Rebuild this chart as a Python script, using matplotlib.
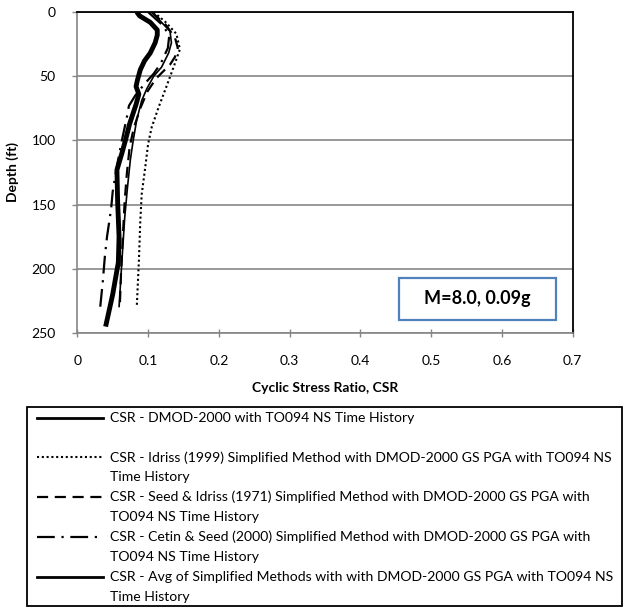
import matplotlib
matplotlib.use("Agg")
import matplotlib.pyplot as plt
from matplotlib.patches import Rectangle
from matplotlib.lines import Line2D

plt.rcParams['font.family'] = ['Lato', 'DejaVu Sans']

# ---- data ----
dmod_depth = [0, 8, 15, 24, 32, 43, 50, 60, 69, 84, 100, 115, 136, 160, 194, 230]
dmod_csr = [0.105, 0.119, 0.131, 0.133, 0.129, 0.119, 0.108, 0.098, 0.091, 0.084, 0.079, 0.075, 0.071, 0.067, 0.063, 0.059]

idriss_depth = [0, 8, 17, 29, 43, 58, 74, 90, 103, 121, 142, 163, 194, 230]
idriss_csr = [0.108, 0.125, 0.140, 0.145, 0.136, 0.126, 0.115, 0.105, 0.100, 0.096, 0.091, 0.089, 0.087, 0.084]

seed_depth = [0, 10, 20, 28, 35, 41, 47, 52, 62, 75, 90, 105, 126, 147, 168, 200, 230]
seed_csr = [0.105, 0.125, 0.138, 0.142, 0.138, 0.131, 0.120, 0.111, 0.099, 0.089, 0.080, 0.074, 0.070, 0.067, 0.065, 0.062, 0.060]

cetin_depth = [0, 10, 18, 28, 40, 48, 56, 65, 73, 82, 100, 120, 140, 152, 160, 175, 190, 210, 232]
cetin_csr = [0.100, 0.120, 0.130, 0.128, 0.118, 0.108, 0.095, 0.082, 0.073, 0.070, 0.063, 0.056, 0.050, 0.048, 0.046, 0.042, 0.039, 0.036, 0.032]

avg_depth = [0, 3, 8, 14, 18, 24, 32, 38, 45, 53, 58, 64, 72, 87, 100, 110, 123, 148, 175, 195, 220, 245]
avg_csr = [0.084, 0.088, 0.103, 0.113, 0.113, 0.110, 0.103, 0.095, 0.089, 0.085, 0.083, 0.087, 0.083, 0.074, 0.068, 0.063, 0.056, 0.057, 0.059, 0.058, 0.050, 0.040]

x_ticks = [0, 0.1, 0.2, 0.3, 0.4, 0.5, 0.6, 0.7]
x_tick_labels = ["0", "0.1", "0.2", "0.3", "0.4", "0.5", "0.6", "0.7"]
y_ticks = [0, 50, 100, 150, 200, 250]
y_tick_labels = ["0", "50", "100", "150", "200", "250"]

legend_labels = [
    ["CSR - DMOD-2000 with TO094 NS Time History", ""],
    ["CSR - Idriss (1999) Simplified Method with DMOD-2000 GS PGA with TO094 NS", "Time History"],
    ["CSR - Seed & Idriss (1971) Simplified Method with DMOD-2000 GS PGA with", "TO094 NS Time History"],
    ["CSR - Cetin & Seed (2000) Simplified Method with DMOD-2000 GS PGA with", "TO094 NS Time History"],
    ["CSR - Avg of Simplified Methods with with DMOD-2000 GS PGA with TO094 NS", "Time History"],
]
annotation = "M=8.0, 0.09g"

W, H = 624, 613
fig = plt.figure(figsize=(W / 100, H / 100), dpi=100)

def fx(px):
    return px / W

def fy(py):
    return 1 - py / H

ax = fig.add_axes([fx(77.3), fy(333), fx(572.7) - fx(77.3), fy(12) - fy(333)])

styles = [
    dict(color='black', lw=1.2, ls='-'),
    dict(color='black', lw=1.5, ls=(0, (1, 1.3))),
    dict(color='black', lw=1.6, ls=(0, (5, 3))),
    dict(color='black', lw=1.6, ls=(0, (8, 3, 1, 3))),
    dict(color='black', lw=3.5, ls='-'),
]
series = [(dmod_csr, dmod_depth), (idriss_csr, idriss_depth), (seed_csr, seed_depth),
          (cetin_csr, cetin_depth), (avg_csr, avg_depth)]
for (xs, ys), st in zip(series, styles):
    ax.plot(xs, ys, solid_capstyle='butt', dash_capstyle='butt', **st)

ax.set_xlim(0, 0.7)
ax.set_ylim(250, 0)
ax.set_xticks(x_ticks)
ax.set_xticklabels(x_tick_labels)
ax.set_yticks(y_ticks)
ax.set_yticklabels(y_tick_labels)
gray = '#868686'
ax.grid(axis='y', color=gray, lw=1.2)
ax.set_axisbelow(True)
ax.tick_params(axis='x', direction='inout', length=6, width=1, color=gray, pad=13, labelsize=10)
ax.tick_params(axis='y', direction='out', length=3.5, width=1, color=gray, pad=12, labelsize=10)
for s in ['left', 'bottom']:
    ax.spines[s].set_color(gray)
    ax.spines[s].set_linewidth(1.2)
for s in ['top', 'right']:
    ax.spines[s].set_color('black')
    ax.spines[s].set_linewidth(1.3)

ax.set_xlabel("Cyclic Stress Ratio, CSR", fontsize=10, fontweight='bold', labelpad=11)
ax.set_ylabel("Depth (ft)", fontsize=10, fontweight='bold', labelpad=9)

# annotation box
ax.add_patch(Rectangle((fx(399), fy(320)), fx(556) - fx(399), fy(278) - fy(320),
                       transform=fig.transFigure, fill=False, edgecolor='#4f81bd', lw=1.6))
fig.text(fx(477.5), fy(299), annotation, ha='center', va='center', fontsize=13, fontweight='bold')

# legend
fig.add_artist(Rectangle((fx(27), fy(606)), fx(622) - fx(27), fy(407) - fy(606),
                         transform=fig.transFigure, fill=False, edgecolor='black', lw=1.3))
row0 = 417.5
step = 19.9
for i, (lab, st) in enumerate(zip(legend_labels, styles)):
    y1 = row0 + step * 2 * i
    lw = 2.0 if st['ls'] == '-' else st['lw']
    fig.add_artist(Line2D([fx(37), fx(103)], [fy(y1), fy(y1)], transform=fig.transFigure,
                          color='black', lw=lw, ls=st['ls'], dash_capstyle='butt'))
    fig.text(fx(110), fy(y1), lab[0], ha='left', va='center', fontsize=10.1)
    if lab[1]:
        fig.text(fx(110), fy(y1 + step), lab[1], ha='left', va='center', fontsize=10.1)

fig.savefig("out.png", dpi=100)
